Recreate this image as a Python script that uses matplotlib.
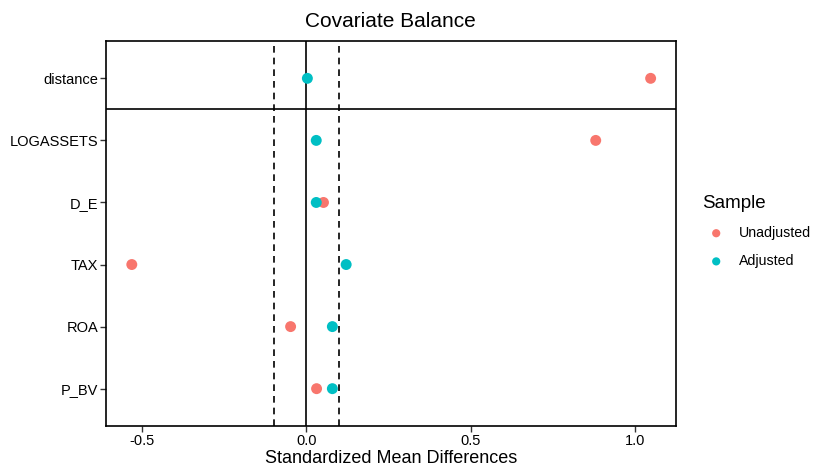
import matplotlib.pyplot as plt

plt.rcParams['font.family'] = ['Liberation Sans', 'DejaVu Sans']

# === データ ===
variables = ['P_BV', 'ROA', 'TAX', 'D_E', 'LOGASSETS', 'distance']
unadjusted = [0.031, -0.048, -0.531, 0.052, 0.880, 1.047]
adjusted = [0.079, 0.079, 0.121, 0.030, 0.030, 0.003]
threshold = 0.1

RED = '#F8766D'
CYAN = '#00BFC4'

fig = plt.figure(figsize=(8.14, 4.67), dpi=100)
ax = fig.add_axes([0.130, 0.088, 0.700, 0.824])

ypos = list(range(len(variables)))

# 基準線
ax.axvline(0, color='black', linewidth=1.2, zorder=1)
ax.axvline(-threshold, color='black', linewidth=1.2, linestyle=(0, (4, 3)), zorder=1)
ax.axvline(threshold, color='black', linewidth=1.2, linestyle=(0, (4, 3)), zorder=1)
ax.axhline(len(variables) - 1.5, color='black', linewidth=1.2, zorder=1)

ax.scatter(unadjusted, ypos, s=62, color=RED, edgecolors='none', zorder=3, label='Unadjusted')
ax.scatter(adjusted, ypos, s=62, color=CYAN, edgecolors='none', zorder=4, label='Adjusted')

ax.set_xlim(-0.61, 1.123)
ax.set_ylim(-0.6, len(variables) - 0.4)
ax.set_yticks(ypos)
ax.set_yticklabels(variables)
ax.set_xticks([-0.5, 0.0, 0.5, 1.0])
ax.set_xticklabels(['-0.5', '0.0', '0.5', '1.0'])
ax.tick_params(axis='both', labelsize=10.5, length=4, width=1.0, color='#333333',
               labelcolor='black', pad=1.5)

for sp in ax.spines.values():
    sp.set_linewidth(1.2)
    sp.set_color('black')

ax.set_title('Covariate Balance', fontsize=15, pad=10)
ax.set_xlabel('Standardized Mean Differences', fontsize=13, labelpad=1.5)

leg = ax.legend(title='Sample', loc='center left', bbox_to_anchor=(1.024, 0.505),
                frameon=False, fontsize=10.2, title_fontsize=13.5,
                handletextpad=0.6, labelspacing=1.0, markerscale=0.75)
leg._legend_box.align = 'left'
leg._legend_box.sep = 10

fig.savefig('out.png', dpi=100)
